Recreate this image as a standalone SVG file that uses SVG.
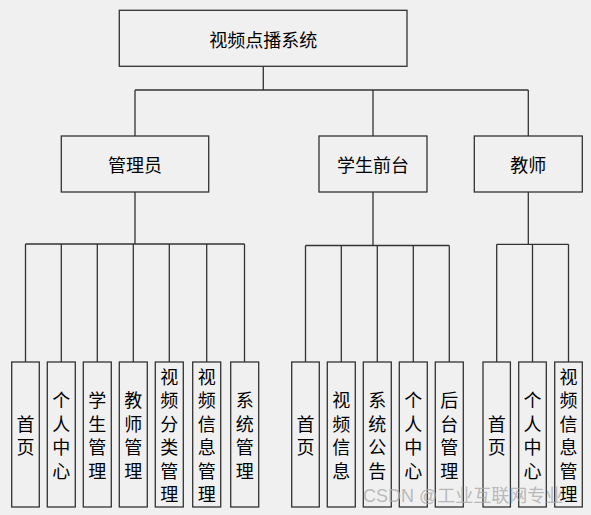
<svg xmlns="http://www.w3.org/2000/svg" width="591" height="515" viewBox="0 0 591 515">
<style>
.bg{fill:#f0f0f0}
.box{fill:#f0f0f0;stroke:#333;stroke-width:1.3}
.ln{fill:none;stroke:#333;stroke-width:1.3}
.t{font-family:"Noto Sans CJK SC","Noto Sans",sans-serif;font-size:18px;fill:#000;text-anchor:middle;dominant-baseline:central}
.v{font-family:"Noto Sans CJK SC","Noto Sans",sans-serif;font-size:18px;fill:#000;text-anchor:middle;dominant-baseline:central}
.wm{font-family:"Liberation Sans","Noto Sans CJK SC",sans-serif;font-size:18px;fill:#aaa;fill-opacity:0.8}
</style>
<rect class="bg" x="0" y="0" width="591" height="515"/>
<g id="connectors">
<path class="ln" d="M263.3 66.3V90M135 90H528.3M135 90V136M373 90V136M528.3 90V136"/>
<path class="ln" d="M135 192V244M25.5 244H244.5M25.5 244V362M61.3 244V362M97.3 244V362M133.3 244V362M169.3 244V362M206.7 244V362M244.5 244V362"/>
<path class="ln" d="M373 192V245.5M305.5 245.5H449.3M305.5 245.5V362M341.3 245.5V362M377.3 245.5V362M413.3 245.5V362M449.3 245.5V362"/>
<path class="ln" d="M528.3 192V244.3M496.7 244.3H568.5M496.7 244.3V362M532.5 244.3V362M568.5 244.3V362"/>
</g>
<g id="root"><rect class="box" x="119.3" y="10.3" width="287.7" height="56"/><text class="t" x="263.3" y="38.5">视频点播系统</text></g>
<g id="admin"><rect class="box" x="61.3" y="136" width="147.4" height="56"/><text class="t" x="135" y="164">管理员</text></g>
<g id="student"><rect class="box" x="319" y="136" width="108" height="56"/><text class="t" x="373" y="164">学生前台</text></g>
<g id="teacher"><rect class="box" x="474.3" y="136" width="108" height="56"/><text class="t" x="528.3" y="164">教师</text></g>

<g id="a1"><rect class="box" x="11.7" y="362" width="27.6" height="145"/><text class="v"><tspan x="25.5" y="422.7">首</tspan><tspan x="25.5" y="446.2">页</tspan></text></g>
<g id="a2"><rect class="box" x="47.3" y="362" width="28" height="145"/><text class="v"><tspan x="61.3" y="399.2">个</tspan><tspan x="61.3" y="422.7">人</tspan><tspan x="61.3" y="446.2">中</tspan><tspan x="61.3" y="469.7">心</tspan></text></g>
<g id="a3"><rect class="box" x="83.3" y="362" width="28" height="145"/><text class="v"><tspan x="97.3" y="399.2">学</tspan><tspan x="97.3" y="422.7">生</tspan><tspan x="97.3" y="446.2">管</tspan><tspan x="97.3" y="469.7">理</tspan></text></g>
<g id="a4"><rect class="box" x="119.3" y="362" width="28" height="145"/><text class="v"><tspan x="133.3" y="399.2">教</tspan><tspan x="133.3" y="422.7">师</tspan><tspan x="133.3" y="446.2">管</tspan><tspan x="133.3" y="469.7">理</tspan></text></g>
<g id="a5"><rect class="box" x="155.3" y="362" width="28" height="145"/><text class="v"><tspan x="169.3" y="375.7">视</tspan><tspan x="169.3" y="399.2">频</tspan><tspan x="169.3" y="422.7">分</tspan><tspan x="169.3" y="446.2">类</tspan><tspan x="169.3" y="469.7">管</tspan><tspan x="169.3" y="493.2">理</tspan></text></g>
<g id="a6"><rect class="box" x="192.7" y="362" width="28" height="145"/><text class="v"><tspan x="206.7" y="375.7">视</tspan><tspan x="206.7" y="399.2">频</tspan><tspan x="206.7" y="422.7">信</tspan><tspan x="206.7" y="446.2">息</tspan><tspan x="206.7" y="469.7">管</tspan><tspan x="206.7" y="493.2">理</tspan></text></g>
<g id="a7"><rect class="box" x="230.7" y="362" width="28" height="145"/><text class="v"><tspan x="244.7" y="399.2">系</tspan><tspan x="244.7" y="422.7">统</tspan><tspan x="244.7" y="446.2">管</tspan><tspan x="244.7" y="469.7">理</tspan></text></g>

<g id="s1"><rect class="box" x="291.7" y="362" width="27.6" height="145"/><text class="v"><tspan x="305.5" y="422.7">首</tspan><tspan x="305.5" y="446.2">页</tspan></text></g>
<g id="s2"><rect class="box" x="327.3" y="362" width="28" height="145"/><text class="v"><tspan x="341.3" y="399.2">视</tspan><tspan x="341.3" y="422.7">频</tspan><tspan x="341.3" y="446.2">信</tspan><tspan x="341.3" y="469.7">息</tspan></text></g>
<g id="s3"><rect class="box" x="363.3" y="362" width="28" height="145"/><text class="v"><tspan x="377.3" y="399.2">系</tspan><tspan x="377.3" y="422.7">统</tspan><tspan x="377.3" y="446.2">公</tspan><tspan x="377.3" y="469.7">告</tspan></text></g>
<g id="s4"><rect class="box" x="399.3" y="362" width="28" height="145"/><text class="v"><tspan x="413.3" y="399.2">个</tspan><tspan x="413.3" y="422.7">人</tspan><tspan x="413.3" y="446.2">中</tspan><tspan x="413.3" y="469.7">心</tspan></text></g>
<g id="s5"><rect class="box" x="435.3" y="362" width="28" height="145"/><text class="v"><tspan x="449.3" y="399.2">后</tspan><tspan x="449.3" y="422.7">台</tspan><tspan x="449.3" y="446.2">管</tspan><tspan x="449.3" y="469.7">理</tspan></text></g>

<g id="t1"><rect class="box" x="483" y="362" width="27.4" height="145"/><text class="v"><tspan x="496.7" y="422.7">首</tspan><tspan x="496.7" y="446.2">页</tspan></text></g>
<g id="t2"><rect class="box" x="518.7" y="362" width="27.6" height="145"/><text class="v"><tspan x="532.5" y="399.2">个</tspan><tspan x="532.5" y="422.7">人</tspan><tspan x="532.5" y="446.2">中</tspan><tspan x="532.5" y="469.7">心</tspan></text></g>
<g id="t3"><rect class="box" x="554.7" y="362" width="27.6" height="145"/><text class="v"><tspan x="568.5" y="375.7">视</tspan><tspan x="568.5" y="399.2">频</tspan><tspan x="568.5" y="422.7">信</tspan><tspan x="568.5" y="446.2">息</tspan><tspan x="568.5" y="469.7">管</tspan><tspan x="568.5" y="493.2">理</tspan></text></g>

<text class="wm" x="363" y="502">CSDN @工业互联网专业</text>
</svg>
